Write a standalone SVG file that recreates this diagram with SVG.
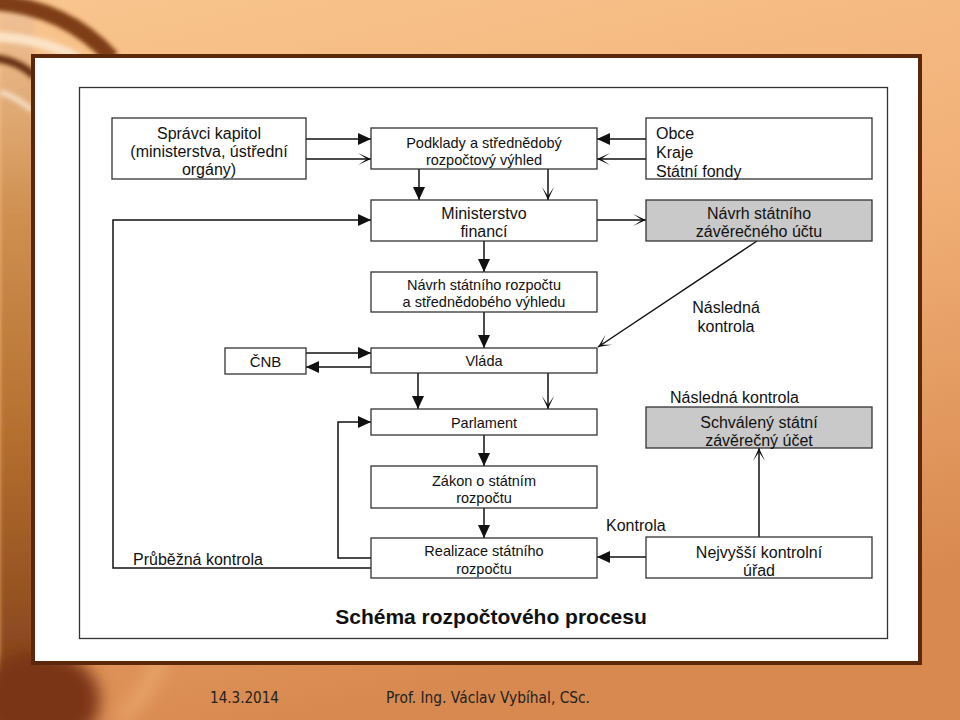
<svg xmlns="http://www.w3.org/2000/svg" width="960" height="720" viewBox="0 0 960 720">
<defs>
<linearGradient id="bg" x1="0" y1="0" x2="0.3" y2="1">
<stop offset="0" stop-color="#f9c58e"/>
<stop offset="0.5" stop-color="#f1b077"/>
<stop offset="1" stop-color="#d8894f"/>
</linearGradient>
<linearGradient id="leftstrip" x1="0" y1="0" x2="0" y2="1">
<stop offset="0" stop-color="#f2c49a"/>
<stop offset="0.3" stop-color="#cf9050"/>
<stop offset="0.6" stop-color="#b5702f"/>
<stop offset="1" stop-color="#7e3c1a"/>
</linearGradient>
<filter id="blur" x="-20%" y="-20%" width="140%" height="140%"><feGaussianBlur stdDeviation="2"/></filter>
<filter id="blur2" x="-20%" y="-20%" width="140%" height="140%"><feGaussianBlur stdDeviation="8"/></filter>
<marker id="af" markerWidth="14" markerHeight="14" refX="13" refY="6" orient="auto" markerUnits="userSpaceOnUse">
<path d="M0,0 L13,6 L0,12 Z" fill="#111"/>
</marker>
<marker id="ao" markerWidth="16" markerHeight="16" refX="13" refY="7" orient="auto" markerUnits="userSpaceOnUse">
<path d="M0,1 L13,7 L0,13 L9,7 Z" fill="#111"/>
</marker>
<style>
.box{fill:#fff;stroke:#333;stroke-width:1.3}
.gray{fill:#c9c9c9;stroke:#333;stroke-width:1.3}
.t{font-family:"Liberation Sans",Arial,sans-serif;fill:#111}
.s16{font-size:16px}
.s145{font-size:14.5px}
.s15{font-size:15px}
.c{text-anchor:middle}
.ln{fill:none;stroke:#111;stroke-width:1.5}
.f{marker-end:url(#af)}
.o{marker-end:url(#ao)}
.foot{font-family:"DejaVu Sans",Verdana,sans-serif;font-size:15px;fill:#222}
</style>
</defs>

<!-- background -->
<rect x="0" y="0" width="960" height="720" fill="url(#bg)"/>
<rect x="0" y="0" width="34" height="720" fill="url(#leftstrip)" filter="url(#blur)"/>
<g filter="url(#blur)" fill="none">
<path d="M-10,2 Q65,6 112,58" stroke="#7e3c12" stroke-width="16"/>
<path d="M-10,36 Q42,38 78,58" stroke="#fbe3c6" stroke-width="10"/>
<path d="M-8,58 Q18,60 34,76" stroke="#6a3212" stroke-width="8"/>
<path d="M0,92 Q15,96 32,110" stroke="#f3d8bc" stroke-width="6"/>
</g>
<g filter="url(#blur2)">
<ellipse cx="40" cy="700" rx="60" ry="50" fill="#7a3616"/>
<path d="M120,720 Q180,660 150,620" stroke="#e8a46a" stroke-width="14" fill="none"/>
</g>

<!-- panel -->
<rect x="33" y="56" width="887" height="607" fill="#fff" stroke="#5b280c" stroke-width="4"/>
<rect x="79.5" y="87.5" width="808" height="551" fill="none" stroke="#333" stroke-width="1.3"/>

<!-- connectors -->
<g id="connectors">
<path class="ln f" d="M306,139 H371"/>
<path class="ln o" d="M306,159 H371"/>
<path class="ln f" d="M646,139 H597"/>
<path class="ln o" d="M646,159 H597"/>
<path class="ln f" d="M419,169 V200"/>
<path class="ln o" d="M548,169 V200"/>
<path class="ln f" d="M371,568 H113 V220 H371"/>
<path class="ln o" d="M597,220 H646"/>
<path class="ln f" d="M484,241 V272"/>
<path class="ln f" d="M484,312 V348"/>
<path class="ln o" d="M757,241 L598,347"/>
<path class="ln f" d="M306,353 H371"/>
<path class="ln f" d="M371,367 H306"/>
<path class="ln f" d="M418,373 V409"/>
<path class="ln o" d="M548,373 V409"/>
<path class="ln f" d="M371,558 H338 V422 H371"/>
<path class="ln f" d="M484,435 V466"/>
<path class="ln f" d="M484,508 V538"/>
<path class="ln f" d="M646,557 H597"/>
<path class="ln o" d="M759,537 V448"/>
</g>

<!-- nodes -->
<g id="spravci">
<rect class="box" x="112" y="118" width="194" height="61"/>
<text class="t s16 c" x="209" y="139">Správci kapitol</text>
<text class="t s16 c" x="209" y="157">(ministerstva, ústřední</text>
<text class="t s16 c" x="209" y="175">orgány)</text>
</g>
<g id="podklady">
<rect class="box" x="371" y="128" width="226" height="41"/>
<text class="t s145 c" x="484" y="148">Podklady a střednědobý</text>
<text class="t s145 c" x="484" y="165">rozpočtový výhled</text>
</g>
<g id="obce">
<rect class="box" x="646" y="118" width="226" height="61"/>
<text class="t s16" x="656" y="139">Obce</text>
<text class="t s16" x="656" y="158">Kraje</text>
<text class="t s16" x="656" y="177">Státní fondy</text>
</g>
<g id="ministerstvo">
<rect class="box" x="371" y="200" width="226" height="41"/>
<text class="t s16 c" x="484" y="219">Ministerstvo</text>
<text class="t s16 c" x="484" y="237">financí</text>
</g>
<g id="navrh-zaverecneho-uctu">
<rect class="gray" x="646" y="200" width="226" height="41"/>
<text class="t s16 c" x="759" y="219">Návrh státního</text>
<text class="t s16 c" x="759" y="237">závěrečného účtu</text>
</g>
<g id="navrh-rozpoctu">
<rect class="box" x="371" y="272" width="226" height="40"/>
<text class="t s145 c" x="484" y="290">Návrh státního rozpočtu</text>
<text class="t s145 c" x="484" y="307">a střednědobého výhledu</text>
</g>
<g id="cnb">
<rect class="box" x="225" y="348" width="81" height="26"/>
<text class="t s15 c" x="265.5" y="367">ČNB</text>
</g>
<g id="vlada">
<rect class="box" x="371" y="348" width="226" height="25"/>
<text class="t s145 c" x="484" y="366">Vláda</text>
</g>
<g id="parlament">
<rect class="box" x="371" y="409" width="226" height="26"/>
<text class="t s145 c" x="484" y="428">Parlament</text>
</g>
<g id="zakon">
<rect class="box" x="371" y="466" width="226" height="42"/>
<text class="t s145 c" x="484" y="486">Zákon o státním</text>
<text class="t s145 c" x="484" y="503">rozpočtu</text>
</g>
<g id="realizace">
<rect class="box" x="371" y="538" width="226" height="40"/>
<text class="t s145 c" x="484" y="556">Realizace státního</text>
<text class="t s145 c" x="484" y="574">rozpočtu</text>
</g>
<g id="schvaleny">
<rect class="gray" x="646" y="407" width="226" height="41"/>
<text class="t s16 c" x="759" y="428">Schválený státní</text>
<text class="t s16 c" x="759" y="446">závěrečný účet</text>
</g>
<g id="nku">
<rect class="box" x="646" y="537" width="226" height="41"/>
<text class="t s16 c" x="759" y="558">Nejvyšší kontrolní</text>
<text class="t s16 c" x="759" y="576">úřad</text>
</g>

<!-- labels -->
<g id="labels">
<text class="t s16 c" x="726" y="313">Následná</text>
<text class="t s16 c" x="726" y="332">kontrola</text>
<text class="t s16" x="670" y="403">Následná kontrola</text>
<text class="t s16" x="606" y="531">Kontrola</text>
<text class="t s16" x="133" y="565">Průběžná kontrola</text>
<text class="t c" x="491" y="624" font-size="21" font-weight="bold">Schéma rozpočtového procesu</text>
</g>

<!-- footer -->
<text class="foot" x="210" y="703" textLength="69" lengthAdjust="spacingAndGlyphs">14.3.2014</text>
<text class="foot" x="386" y="703" textLength="204" lengthAdjust="spacingAndGlyphs">Prof. Ing. Václav Vybíhal, CSc.</text>
</svg>
